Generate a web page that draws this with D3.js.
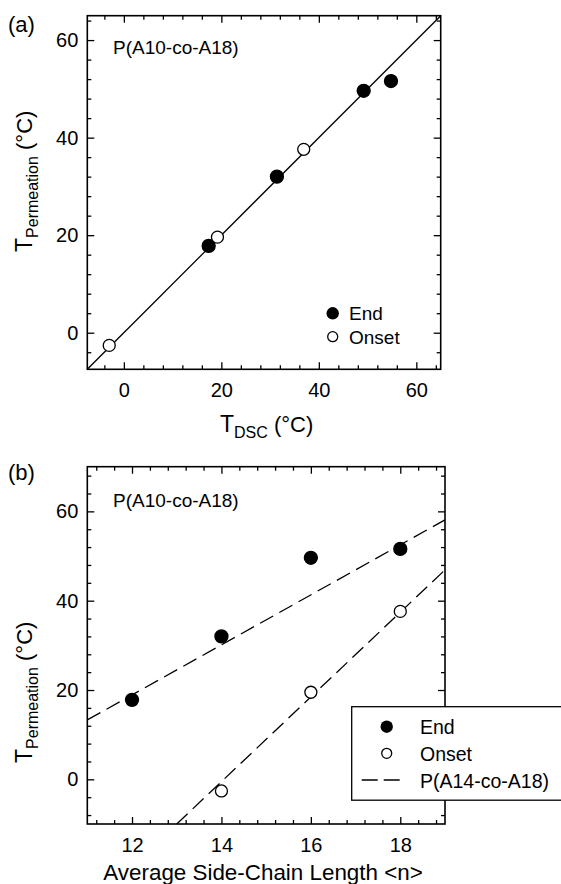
<!DOCTYPE html>
<html>
<head>
<meta charset="utf-8">
<script src="https://cdn.jsdelivr.net/npm/d3@7"></script>
<style>
  body { margin: 0; background: #fff; }
  svg { display: block; font-family: "Liberation Sans", Arial, sans-serif; }
  .tick text { font-size: 20px; fill: #000; font-family: "Liberation Sans", Arial, sans-serif; }
</style>
</head>
<body>
<svg width="561" height="884"></svg>
<script>
// panel (a): T_permeation vs T_DSC
let dscEnd = [[17.4, 17.8], [31.4, 32.0], [49.2, 49.6], [54.8, 51.6]];
let dscOnset = [[-3.0, -2.6], [19.2, 19.6], [36.9, 37.6]];
let unityLine = [[-7.5, -7.5], [65, 65]];
let ticksA = [0, 20, 40, 60];

// panel (b): T_permeation vs side-chain length
let nEnd = [[12, 17.8], [14, 32.0], [16, 49.6], [18, 51.6]];
let nOnset = [[14, -2.6], [16, 19.5], [18, 37.6]];
let fitEnd = [[11, 13.3], [19, 58.1]];
let fitOnset = [[13, -10], [19, 46.9]];
let ticksBx = [12, 14, 16, 18];
let ticksBy = [0, 20, 40, 60];

let svg = d3.select('svg');
let line = d3.line().x(d => d[0]).y(d => d[1]);

// framed box, inward major/minor ticks on all four sides, labels bottom+left
let drawFrame = (x, y, xMajor, xMinor, yMajor, yMinor) => {
  let g = svg.append('g');
  let [x0, x1] = x.range();
  let [y1, y0] = y.range();
  let sides = [
    [d3.axisBottom, x, `translate(0,${y1})`, 14, xMajor, xMinor],
    [d3.axisTop, x, `translate(0,${y0})`, 0, xMajor, xMinor],
    [d3.axisLeft, y, `translate(${x0},0)`, 9, yMajor, yMinor],
    [d3.axisRight, y, `translate(${x1},0)`, 0, yMajor, yMinor]
  ];
  sides.forEach(([axis, scale, tr, pad, major, minor]) => {
    g.append('g')
      .attr('transform', tr)
      .call(axis(scale).tickValues(minor).tickSizeInner(-4).tickSizeOuter(0).tickFormat(''))
      .call(s => s.select('.domain').remove());
    g.append('g')
      .attr('transform', tr)
      .call(axis(scale).tickValues(major).tickSizeInner(-7).tickSizeOuter(0)
        .tickPadding(pad).tickFormat(pad ? d3.format('d') : ''))
      .call(s => s.select('.domain').remove());
  });
  g.selectAll('.tick line').attr('stroke', '#000').attr('stroke-width', 1.3);
  g.append('rect')
    .attr('x', x0).attr('y', y0)
    .attr('width', x1 - x0).attr('height', y1 - y0)
    .attr('fill', 'none').attr('stroke', '#000').attr('stroke-width', 1.6);
};

let drawPoints = (data, x, y, filled, r) => {
  svg.append('g').selectAll('circle')
    .data(data)
    .enter()
    .append('circle')
    .attr('cx', d => x(d[0]))
    .attr('cy', d => y(d[1]))
    .attr('r', r)
    .attr('fill', filled ? '#000' : '#fff')
    .attr('stroke', '#000')
    .attr('stroke-width', 1.3);
};

let yTitle = (tx, ty) => {
  let t = svg.append('text').attr('transform', `translate(${tx},${ty}) rotate(-90)`);
  t.append('tspan').attr('font-size', 23).text('T');
  t.append('tspan').attr('font-size', 16).attr('dy', 6.6).text('Permeation');
  t.append('tspan').attr('font-size', 22).attr('dy', -6.6).text(' (°C)');
};

// ---------- panel (a) ----------
let xA = d3.scaleLinear().domain([-7.5, 65]).range([87.3, 440.7]);
let yA = d3.scaleLinear().domain([-7.5, 65]).range([369.3, 15.7]);
let minorA = d3.range(-4, 65, 4).filter(v => v % 20 !== 0);

svg.append('path')
  .attr('d', line(unityLine.map(d => [xA(d[0]), yA(d[1])])))
  .attr('fill', 'none').attr('stroke', '#000').attr('stroke-width', 1.3);

drawFrame(xA, yA, ticksA, minorA, ticksA, minorA);
drawPoints(dscEnd, xA, yA, true, 6.5);
drawPoints(dscOnset, xA, yA, false, 6);

svg.append('text').attr('x', 8).attr('y', 32).attr('font-size', 22).text('(a)');
svg.append('text').attr('x', 113).attr('y', 53.5).attr('font-size', 19).text('P(A10-co-A18)');

// legend (a)
svg.append('circle').attr('cx', 332.7).attr('cy', 313.3).attr('r', 6.2).attr('fill', '#000');
svg.append('circle').attr('cx', 332.7).attr('cy', 336.7).attr('r', 5)
  .attr('fill', '#fff').attr('stroke', '#000').attr('stroke-width', 1.3);
svg.append('text').attr('x', 349).attr('y', 319.5).attr('font-size', 19).text('End');
svg.append('text').attr('x', 349).attr('y', 343.5).attr('font-size', 19).text('Onset');

// axis titles (a)
let xtA = svg.append('text').attr('x', 220).attr('y', 431.7);
xtA.append('tspan').attr('font-size', 23).text('T');
xtA.append('tspan').attr('font-size', 16).attr('dy', 6.3).text('DSC');
xtA.append('tspan').attr('font-size', 22).attr('dy', -6.3).text(' (°C)');
yTitle(31.7, 252);

// ---------- panel (b) ----------
let xB = d3.scaleLinear().domain([11, 19]).range([87.3, 445]);
let yB = d3.scaleLinear().domain([-10, 70]).range([824, 466.7]);
let minorBx = d3.range(0, 20).map(i => +(11.2 + i * 0.4).toFixed(1)).filter(v => v < 19 && v % 2 !== 0);
let minorBy = d3.range(-8, 70, 4).filter(v => v % 20 !== 0);

[fitEnd, fitOnset].forEach(f => {
  svg.append('path')
    .attr('d', line(f.map(d => [xB(d[0]), yB(d[1])])))
    .attr('fill', 'none').attr('stroke', '#000').attr('stroke-width', 1.3)
    .attr('stroke-dasharray', '15,7');
});

drawFrame(xB, yB, ticksBx, minorBx, ticksBy, minorBy);
drawPoints(nEnd, xB, yB, true, 6.5);
drawPoints(nOnset, xB, yB, false, 6);

svg.append('text').attr('x', 8).attr('y', 480).attr('font-size', 22).text('(b)');
svg.append('text').attr('x', 113).attr('y', 506.5).attr('font-size', 19).text('P(A10-co-A18)');

// legend (b)
svg.append('rect').attr('x', 351.7).attr('y', 706.7).attr('width', 230).attr('height', 93.5)
  .attr('fill', '#fff').attr('stroke', '#000').attr('stroke-width', 1.3);
svg.append('circle').attr('cx', 386.7).attr('cy', 726.7).attr('r', 6.2).attr('fill', '#000');
svg.append('circle').attr('cx', 386.7).attr('cy', 753.3).attr('r', 5)
  .attr('fill', '#fff').attr('stroke', '#000').attr('stroke-width', 1.3);
svg.append('line').attr('x1', 361.7).attr('x2', 403.3).attr('y1', 780).attr('y2', 780)
  .attr('stroke', '#000').attr('stroke-width', 1.3).attr('stroke-dasharray', '16,6');
svg.append('text').attr('x', 420).attr('y', 733.5).attr('font-size', 19.5).text('End');
svg.append('text').attr('x', 420).attr('y', 760.5).attr('font-size', 19.5).text('Onset');
svg.append('text').attr('x', 420).attr('y', 787.5).attr('font-size', 19.5).text('P(A14-co-A18)');

// axis titles (b)
svg.append('text').attr('x', 103.3).attr('y', 880).attr('font-size', 22.4)
  .text('Average Side-Chain Length <n>');
yTitle(31.7, 763);
</script>
</body>
</html>
